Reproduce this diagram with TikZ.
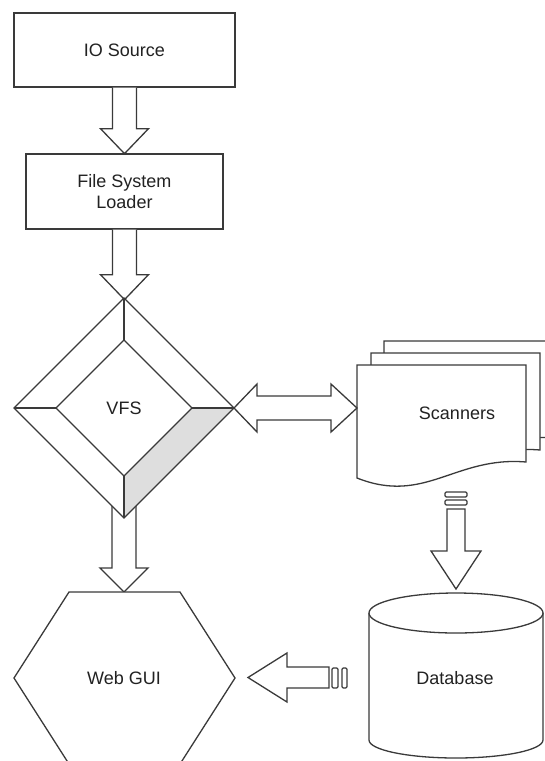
\documentclass[tikz,border=0pt]{standalone}
\usepackage{fontspec}
\setmainfont{Liberation Sans}
\usetikzlibrary{calc}
\definecolor{ink}{HTML}{3A3A3A}
\definecolor{txt}{HTML}{222222}
\definecolor{facet}{HTML}{DEDEDE}
\begin{document}
\begin{tikzpicture}[x=1pt,y=-1pt,
  outl/.style={draw=ink, line width=1.3pt, line join=miter},
  blk/.style={outl, fill=white},
  lbl/.style={font=\fontsize{18}{21}\selectfont, text=txt, align=center, inner sep=0pt},
  boxnode/.style={blk, lbl, rectangle}]
\useasboundingbox (0,0) rectangle (544,761);

% ---- rectangles at the top
\node[boxnode, minimum width=221pt, minimum height=74pt] (io) at (124.5,50) {IO Source};
\node[boxnode, minimum width=197pt, minimum height=75pt] (fsl) at (124.5,191.5) {File System\\Loader};

% block arrow IO Source -> File System Loader
\draw[blk] ([xshift=-12pt]io.south) -- ++(0,41) -- ++(-12,0) -- ++(24,25)
  -- ++(24,-25) -- ++(-12,0) -- ([xshift=12pt]io.south);

% block arrow File System Loader -> VFS
\draw[blk] ([xshift=-12pt]fsl.south) -- ++(0,45) -- ++(-12,0) -- ++(24,25)
  -- ++(24,-25) -- ++(-12,0) -- ([xshift=12pt]fsl.south);

% ---- VFS bevelled diamond
\coordinate (vc) at (124,408);
% block arrow VFS -> Web GUI (shaft starts behind the diamond)
\draw[blk] ($(vc)+(-12,97)$) -- ++(0,63) -- ++(-12,0) -- ++(24,24)
  -- ++(24,-24) -- ++(-12,0) -- ($(vc)+(12,97)$);

\coordinate (ot) at ($(vc)+(0,-110)$);
\coordinate (ob) at ($(vc)+(0,110)$);
\coordinate (ol) at ($(vc)+(-110,0)$);
\coordinate (or) at ($(vc)+(110,0)$);
\coordinate (it) at ($(vc)+(0,-68)$);
\coordinate (ib) at ($(vc)+(0,68)$);
\coordinate (il) at ($(vc)+(-68,0)$);
\coordinate (ir) at ($(vc)+(68,0)$);
\fill[white] (ot) -- (or) -- (ob) -- (ol) -- cycle;
\fill[facet] (or) -- (ir) -- (ib) -- (ob) -- cycle;
\draw[outl] (ot) -- (or) -- (ob) -- (ol) -- cycle;
\draw[outl] (it) -- (ir) -- (ib) -- (il) -- cycle;
\draw[outl] (ot) -- (it) (or) -- (ir) (ob) -- (ib) (ol) -- (il);
\node[lbl] (vfs) at (vc) {VFS};

% ---- Web GUI hexagon
\coordinate (hc) at (124,678);
\draw[blk] ($(hc)+(-55,-86)$) -- ($(hc)+(56,-86)$) -- ($(hc)+(111,0)$)
  -- ($(hc)+(56,86)$) -- ($(hc)+(-55,86)$) -- ($(hc)+(-110,0)$) -- cycle;
\node[lbl] (gui) at (hc) {Web GUI};

% ---- stacked scanner documents
\foreach \dx/\dy in {27/-24, 14/-12, 0/0}{
  \draw[blk] ($(357,365)+(\dx,\dy)$) -- ($(526,365)+(\dx,\dy)$) -- ($(526,462)+(\dx,\dy)$)
    .. controls ($(455,456)+(\dx,\dy)$) and ($(425,505)+(\dx,\dy)$) .. ($(357,478)+(\dx,\dy)$) -- cycle;
}
\coordinate (scl) at (357,408);
\node[lbl] (scan) at (457,413) {Scanners};

% double block arrow VFS <-> Scanners
\draw[blk] (or) -- ++(23,-24) -- ++(0,12) -- ++(74,0) -- ++(0,-12) -- (scl)
  -- ++(-26,24) -- ++(0,-12) -- ++(-74,0) -- ++(0,12) -- cycle;

% ---- Database cylinder
\coordinate (dc) at (456,613);
\draw[blk] ($(dc)+(-87,0)$) -- ($(dc)+(-87,127)$)
  arc[start angle=180, end angle=0, x radius=87, y radius=18] -- ($(dc)+(87,0)$);
\draw[blk] (dc) ellipse[x radius=87, y radius=20];
\node[lbl] (db) at (455,678) {Database};

% block arrow Scanners -> Database, with tail bars
\draw[outl, rounded corners=1.2pt] (445,492) rectangle (467,497);
\draw[outl, rounded corners=1.2pt] (445,500) rectangle (467,505);
\draw[blk] (447,509) -- (447,551) -- (431,551) -- (456,589) -- (481,551) -- (465,551) -- (465,509) -- cycle;

% block arrow Database -> Web GUI, with tail bars
\draw[outl, rounded corners=1.2pt] (332,668) rectangle (338,688);
\draw[outl, rounded corners=1.2pt] (342,668) rectangle (347,688);
\draw[blk] (329,667) -- (287,667) -- (287,653) -- (248,677.5) -- (287,702) -- (287,688) -- (329,688) -- cycle;
\end{tikzpicture}
\end{document}
